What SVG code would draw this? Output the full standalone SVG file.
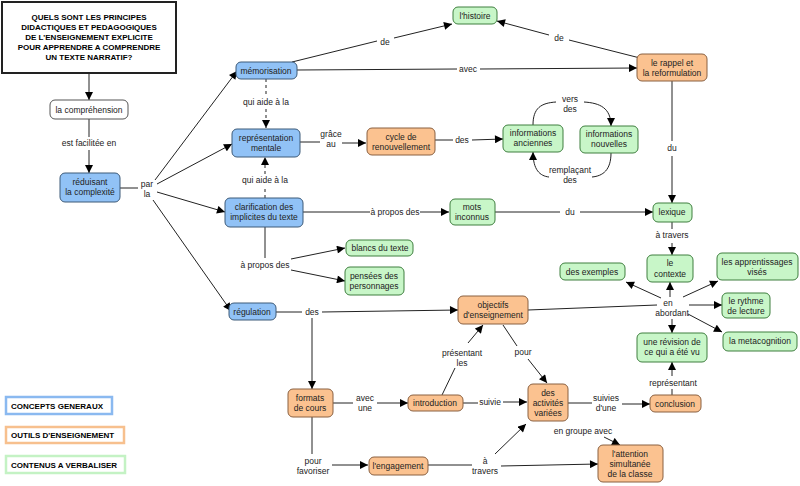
<svg xmlns="http://www.w3.org/2000/svg" width="800" height="486" viewBox="0 0 800 486">
<defs>
<marker id="a" viewBox="0 0 10 10" refX="10" refY="5" markerWidth="9" markerHeight="8" markerUnits="userSpaceOnUse" orient="auto"><path d="M0,0 L10,5 L0,10 z" fill="#000"/></marker>
<style>
text{font-family:"Liberation Sans",Arial,sans-serif;font-size:8.5px;fill:#222;text-anchor:middle}
.t{font-size:8px;font-weight:bold;fill:#000}
.lg{font-size:8px;font-weight:bold;fill:#000;text-anchor:start}
.b rect{fill:#91c2f6;stroke:#3d5a78;stroke-width:1}
.o rect{fill:#fbc290;stroke:#8a6040;stroke-width:1}
.g rect{fill:#c8f6c8;stroke:#3f7f3f;stroke-width:1}
.w rect{fill:#fff;stroke:#555;stroke-width:1}
.c path{fill:none;stroke:#222;stroke-width:1}
.c .ar{marker-end:url(#a)}
.c .d{stroke-dasharray:3,3}
</style>
</defs>
<rect width="800" height="486" fill="#fff"/>

<g id="title"><rect x="2" y="2" width="174" height="71" fill="#fff" stroke="#222" stroke-width="2"/>
<text class="t" x="89" y="20">QUELS SONT LES PRINCIPES</text>
<text class="t" x="89" y="30">DIDACTIQUES ET PEDAGOGIQUES</text>
<text class="t" x="89" y="40">DE L'ENSEIGNEMENT EXPLICITE</text>
<text class="t" x="89" y="50">POUR APPRENDRE A COMPRENDRE</text>
<text class="t" x="89" y="60">UN TEXTE NARRATIF?</text></g>

<g class="c" id="connectors">
<path class="ar" d="M89,73 L89,100"/>
<path d="M89,119 L89,137"/><path class="ar" d="M89,150 L89,173"/>
<path d="M120,188 L138,188"/>
<path class="ar" d="M155,180 L237,71"/>
<path class="ar" d="M157,184 L232,144"/>
<path class="ar" d="M157,192 L225,212"/>
<path class="ar" d="M153,200 L231,311"/>
<path d="M292,62 L377,41"/><path class="ar" d="M394,38 L452,24"/>
<path d="M297,70 L457,69"/><path class="ar" d="M480,69 L637,68"/>
<path d="M640,58 L569,40"/><path class="ar" d="M549,35 L497,21"/>
<path d="M672,81 L672,141"/><path class="ar" d="M672,156 L672,203"/>
<path class="d" d="M266,79 L266,95"/><path class="d ar" d="M266,109 L266,128"/>
<path class="d" d="M265,198 L265,186"/><path class="d ar" d="M265,174 L265,157"/>
<path d="M300,142 L320,142"/><path class="ar" d="M342,143 L366,143"/>
<path d="M435,140 L453,140"/><path class="ar" d="M472,140 L503,139"/>
<path d="M533,125 C533,108 541,103 556,102"/><path class="ar" d="M584,102 C600,103 611,108 611,126"/>
<path d="M611,153 C611,170 603,176 592,177"/><path class="ar" d="M549,177 C540,176 533,170 533,152"/>
<path d="M303,212 L370,212"/><path class="ar" d="M420,212 L449,212"/>
<path d="M495,212 L560,212"/><path class="ar" d="M580,212 L653,212"/>
<path d="M672,222 L672,229"/><path class="ar" d="M672,243 L672,255"/>
<path d="M265,227 L265,258"/>
<path class="ar" d="M291,259 L345,248"/>
<path class="ar" d="M291,270 L345,281"/>
<path d="M276,312 L302,312"/><path class="ar" d="M322,312 L458,310"/>
<path class="ar" d="M312,318 L312,389"/>
<path d="M528,310 L657,305"/>
<path class="ar" d="M661,298 L626,282"/>
<path class="ar" d="M670,297 L670,282"/>
<path class="ar" d="M683,297 L718,281"/>
<path class="ar" d="M689,305 L722,305"/>
<path class="ar" d="M688,314 L722,332"/>
<path class="ar" d="M672,319 L672,333"/>
<path d="M672,395 L672,389"/><path class="ar" d="M672,376 L672,362"/>
<path d="M568,403 L592,403"/><path class="ar" d="M622,404 L650,404"/>
<path d="M333,403 L353,403"/><path class="ar" d="M377,403 L408,403"/>
<path d="M463,403 L478,403"/><path class="ar" d="M503,402 L527,402"/>
<path d="M442,395 L455,368"/><path class="ar" d="M468,343 L483,325"/>
<path d="M503,325 L517,346"/><path class="ar" d="M528,359 L547,383"/>
<path class="ar" d="M604,437 L620,445"/>
<path d="M312,417 L312,454"/><path class="ar" d="M332,465 L368,465"/>
<path d="M428,465 L472,465"/>
<path class="ar" d="M495,454 L526,424"/>
<path class="ar" d="M501,466 L598,464"/>
</g>

<g id="labels">
<text x="89" y="146">est facilitée en</text>
<text x="147" y="187">par</text><text x="147" y="197">la</text>
<text x="385" y="45">de</text>
<text x="468" y="72">avec</text>
<text x="559" y="41">de</text>
<text x="672" y="151">du</text>
<text x="266" y="105">qui aide à la</text>
<text x="265" y="183">qui aide à la</text>
<text x="331" y="137">grâce</text><text x="331" y="147">au</text>
<text x="462" y="143">des</text>
<text x="570" y="102">vers</text><text x="570" y="112">des</text>
<text x="570" y="173">remplaçant</text><text x="570" y="183">des</text>
<text x="395" y="215">à propos des</text>
<text x="570" y="215">du</text>
<text x="672" y="238">à travers</text>
<text x="265" y="268">à propos des</text>
<text x="312" y="315">des</text>
<text x="668" y="306">en</text><text x="672" y="316">abordant</text>
<text x="673" y="386">représentant</text>
<text x="606" y="401">suivies</text><text x="606" y="411">d'une</text>
<text x="365" y="401">avec</text><text x="365" y="411">une</text>
<text x="490" y="405">suivie</text>
<text x="462" y="356">présentant</text><text x="462" y="366">les</text>
<text x="523" y="355">pour</text>
<text x="583" y="434">en groupe avec</text>
<text x="313" y="464">pour</text><text x="313" y="474">favoriser</text>
<text x="485" y="464">à</text><text x="485" y="474">travers</text>
</g>

<g id="comprehension" class="w"><rect x="50" y="100" width="78" height="19" rx="5"/><text x="89" y="113">la compréhension</text></g>
<g id="reduisant" class="b"><rect x="60" y="173" width="60" height="29" rx="5"/><text x="90" y="185">réduisant</text><text x="90" y="195">la complexité</text></g>
<g id="memorisation" class="b"><rect x="236" y="62" width="61" height="17" rx="5"/><text x="266" y="74">mémorisation</text></g>
<g id="representation" class="b"><rect x="232" y="129" width="68" height="28" rx="5"/><text x="266" y="141">représentation</text><text x="266" y="151">mentale</text></g>
<g id="clarification" class="b"><rect x="225" y="198" width="78" height="29" rx="5"/><text x="264" y="210">clarification des</text><text x="264" y="220">implicites du texte</text></g>
<g id="regulation" class="b"><rect x="229" y="303" width="47" height="17" rx="5"/><text x="252" y="315">régulation</text></g>
<g id="histoire" class="g"><rect x="453" y="7" width="44" height="17" rx="5"/><text x="475" y="19">l'histoire</text></g>
<g id="rappel" class="o"><rect x="637" y="54" width="70" height="27" rx="5"/><text x="672" y="66">le rappel et</text><text x="672" y="76">la reformulation</text></g>
<g id="cycle" class="o"><rect x="367" y="128" width="68" height="27" rx="5"/><text x="401" y="140">cycle de</text><text x="401" y="150">renouvellement</text></g>
<g id="anciennes" class="g"><rect x="503" y="125" width="60" height="27" rx="5"/><text x="533" y="136">informations</text><text x="533" y="146">anciennes</text></g>
<g id="nouvelles" class="g"><rect x="580" y="126" width="58" height="27" rx="5"/><text x="609" y="137">informations</text><text x="609" y="147">nouvelles</text></g>
<g id="mots" class="g"><rect x="450" y="199" width="45" height="26" rx="5"/><text x="472" y="210">mots</text><text x="472" y="220">inconnus</text></g>
<g id="lexique" class="g"><rect x="653" y="203" width="39" height="19" rx="5"/><text x="672" y="215">lexique</text></g>
<g id="blancs" class="g"><rect x="346" y="240" width="67" height="16" rx="5"/><text x="380" y="251">blancs du texte</text></g>
<g id="pensees" class="g"><rect x="345" y="267" width="59" height="28" rx="5"/><text x="374" y="279">pensées des</text><text x="374" y="289">personnages</text></g>
<g id="contexte" class="g"><rect x="647" y="255" width="46" height="27" rx="5"/><text x="670" y="266">le</text><text x="670" y="277">contexte</text></g>
<g id="exemples" class="g"><rect x="560" y="263" width="65" height="17" rx="5"/><text x="592" y="275">des exemples</text></g>
<g id="apprentissages" class="g"><rect x="717" y="253" width="81" height="27" rx="5"/><text x="757" y="265">les apprentissages</text><text x="757" y="275">visés</text></g>
<g id="rythme" class="g"><rect x="722" y="293" width="48" height="25" rx="5"/><text x="746" y="304">le rythme</text><text x="746" y="314">de lecture</text></g>
<g id="metacognition" class="g"><rect x="723" y="332" width="74" height="19" rx="5"/><text x="760" y="344">la metacognition</text></g>
<g id="revision" class="g"><rect x="637" y="333" width="70" height="29" rx="5"/><text x="672" y="345">une révision de</text><text x="672" y="355">ce qui a été vu</text></g>
<g id="objectifs" class="o"><rect x="458" y="296" width="70" height="28" rx="5"/><text x="493" y="308">objectifs</text><text x="493" y="318">d'enseignement</text></g>
<g id="formats" class="o"><rect x="288" y="389" width="45" height="28" rx="5"/><text x="310" y="401">formats</text><text x="310" y="411">de cours</text></g>
<g id="introduction" class="o"><rect x="408" y="395" width="55" height="16" rx="5"/><text x="435" y="406">introduction</text></g>
<g id="activites" class="o"><rect x="528" y="384" width="40" height="37" rx="5"/><text x="548" y="396">des</text><text x="548" y="406">activités</text><text x="548" y="416">variées</text></g>
<g id="conclusion" class="o"><rect x="650" y="395" width="51" height="17" rx="5"/><text x="675" y="407">conclusion</text></g>
<g id="engagement" class="o"><rect x="369" y="457" width="59" height="18" rx="5"/><text x="398" y="469">l'engagement</text></g>
<g id="attention" class="o"><rect x="598" y="445" width="65" height="37" rx="5"/><text x="630" y="457">l'attention</text><text x="630" y="467">simultanée</text><text x="630" y="477">de la classe</text></g>

<g id="legend">
<rect x="6" y="397" width="106" height="17" fill="#fff" stroke="#8ab9f0" stroke-width="2.5"/><text class="lg" x="11" y="409">CONCEPTS GENERAUX</text>
<rect x="6" y="427" width="118" height="16" fill="#fff" stroke="#f7c08e" stroke-width="2.5"/><text class="lg" x="11" y="438">OUTILS D'ENSEIGNEMENT</text>
<rect x="6" y="456" width="119" height="17" fill="#fff" stroke="#c4f2c4" stroke-width="2.5"/><text class="lg" x="11" y="468">CONTENUS A VERBALISER</text>
</g>
</svg>
